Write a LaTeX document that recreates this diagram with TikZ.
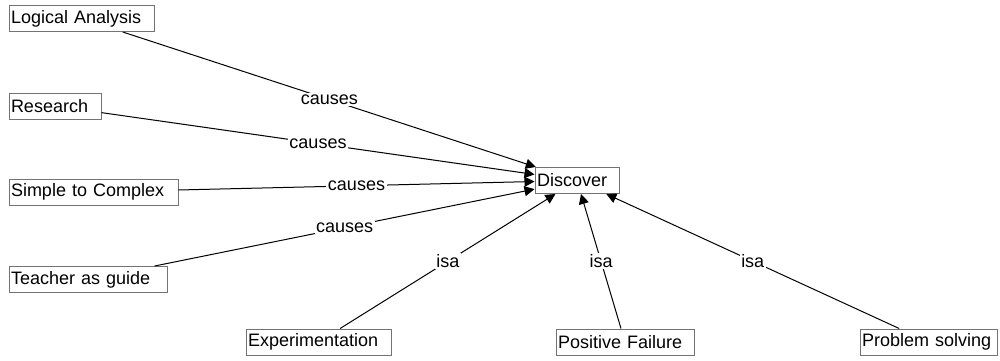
\documentclass[tikz,border=0pt]{standalone}
\usepackage{fontspec}
\setmainfont{Liberation Sans}
\usetikzlibrary{arrows.meta}

\tikzset{
    concept/.style={draw=black!55, line width=1pt, fill=white, inner xsep=2pt, inner ysep=1pt,
        minimum height=26pt, align=left, text width=#1, font=\fontsize{18}{21}\selectfont},
    link/.style={line width=1pt, -{Triangle[length=10pt, width=10pt]}},
    linklabel/.style={fill=white, inner sep=1.5pt, font=\fontsize{18}{21}\selectfont}
}

\begin{document}
\begin{tikzpicture}[x=1pt, y=-1pt]
        \useasboundingbox (0,0) rectangle (1000,360);

        % Central concept
        \node[concept=80pt] (discover) at (577,180.5) {Discover};

        % Causes on the left
        \node[concept=141pt] (logic) at (81.5,18.5) {Logical Analysis};
        \node[concept=88pt] (research) at (55,106) {Research};
        \node[concept=165pt] (simple) at (93.5,192) {Simple to Complex};
        \node[concept=154pt] (teacher) at (88,279.5) {Teacher as guide};

        % Kinds at the bottom
        \node[concept=141pt] (experiment) at (318.5,342) {Experimentation};
        \node[concept=134pt] (failure) at (625,342) {Positive Failure};
        \node[concept=133pt] (problem) at (928.5,342) {Problem solving};

        % Causes links
        \draw[link] (logic) -- (discover) node[linklabel, midway] {causes};
        \draw[link] (research) -- (discover) node[linklabel, midway] {causes};
        \draw[link] (simple) -- (discover) node[linklabel, midway] {causes};
        \draw[link] (teacher) -- (discover) node[linklabel, midway] {causes};

        % Isa links
        \draw[link] (experiment) -- (discover) node[linklabel, midway] {isa};
        \draw[link] (failure) -- (discover) node[linklabel, midway] {isa};
        \draw[link] (problem) -- (discover) node[linklabel, midway] {isa};
\end{tikzpicture}
\end{document}
